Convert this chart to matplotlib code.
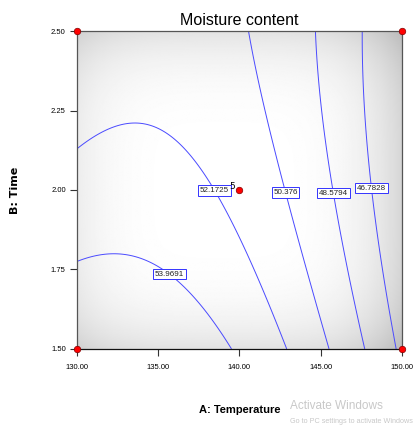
import numpy as np
import matplotlib.pyplot as plt

# Response-surface model (coded units) for moisture content
# x = (Temperature - 140) / 10, y = (Time - 2.0) / 0.5
coef_b0 = 51.65
coef_A = -3.80
coef_B = -1.60
coef_AB = 0.84
coef_A2 = -2.68
coef_B2 = 0.50

levels = [46.7828, 48.5794, 50.376, 52.1725, 53.9691]
label_pos = [(148.15, 2.006), (145.8, 1.99), (142.7, 1.99), (138.2, 1.99), (135.65, 1.733)]

design_temp = [130, 130, 150, 150, 140]
design_time = [1.50, 2.50, 2.50, 1.50, 2.00]

xticks = [130, 135, 140, 145, 150]
yticks = [1.50, 1.75, 2.00, 2.25, 2.50]

narrow = ['Liberation Sans Narrow', 'DejaVu Sans Condensed', 'Liberation Sans', 'DejaVu Sans']

fig = plt.figure(figsize=(4.2, 4.25), dpi=100)
ax = fig.add_axes([0.183, 0.179, 0.957 - 0.183, 0.927 - 0.179])

T = np.linspace(130, 150, 201)
t = np.linspace(1.5, 2.5, 201)
TT, tt = np.meshgrid(T, t)
xc = (TT - 140) / 10
yc = (tt - 2.0) / 0.5
Z = (coef_b0 + coef_A * xc + coef_B * yc + coef_AB * xc * yc
     + coef_A2 * xc ** 2 + coef_B2 * yc ** 2)

# grey vignette background like Design-Expert
u, v = np.meshgrid(np.linspace(-1, 1, 300), np.linspace(-1, 1, 300))
d4 = np.abs(u + 0.1) ** 4 + np.abs(v) ** 4
shade = np.clip(1 - 0.11 * d4, 0, 1)
ax.imshow(shade, cmap='gray', vmin=0, vmax=1, extent=[130, 150, 1.5, 2.5],
          aspect='auto', origin='lower', zorder=0, interpolation='bilinear')

cs = ax.contour(TT, tt, Z, levels=levels, colors='#4a4aff', linewidths=0.7, zorder=2)
labels = ax.clabel(cs, fmt={lv: str(lv) for lv in levels}, fontsize=5.8,
                   inline=False, manual=label_pos, colors='#222222')
for txt in labels:
    txt.set_rotation(0)
    txt.set_zorder(4)
    txt.set_family(narrow)
    txt.set_bbox(dict(boxstyle='square,pad=0.2', fc='white', ec='#3333ff', lw=0.7))

ax.scatter(design_temp, design_time, s=22, c='red', edgecolors='#800000',
           linewidths=0.5, zorder=5, clip_on=False)
ax.text(139.72, 2.01, '5', fontsize=6.5, ha='right', va='center', zorder=6)

ax.set_xlim(130, 150)
ax.set_ylim(1.5, 2.5)
ax.set_xticks(xticks)
ax.set_yticks(yticks)
ax.set_xticklabels(['%.2f' % v for v in xticks], fontsize=5.5, family=narrow)
ax.set_yticklabels(['%.2f' % v for v in yticks], fontsize=5.5, family=narrow)
ax.tick_params(direction='out', length=5, width=0.8, pad=6, color='#333333')
ax.tick_params(axis='y', pad=3)
for s in ax.spines.values():
    s.set_color('#555555')
    s.set_linewidth(0.9)
ax.spines['bottom'].set_color('#111111')

ax.set_title('Moisture content', fontsize=11.5, family=narrow, pad=4)
ax.set_xlabel('A: Temperature', fontsize=8, family=narrow, fontweight='bold', labelpad=24)
ax.set_ylabel('B: Time', fontsize=8, fontweight='bold', labelpad=22)

# screenshot watermark
fig.text(0.69, 0.038, 'Activate Windows', fontsize=8.5, color='#c8c8c8', family=narrow)
fig.text(0.69, 0.004, 'Go to PC settings to activate Windows', fontsize=5.2, color='#c8c8c8',
         family=narrow)

fig.savefig('out.png', dpi=100)
